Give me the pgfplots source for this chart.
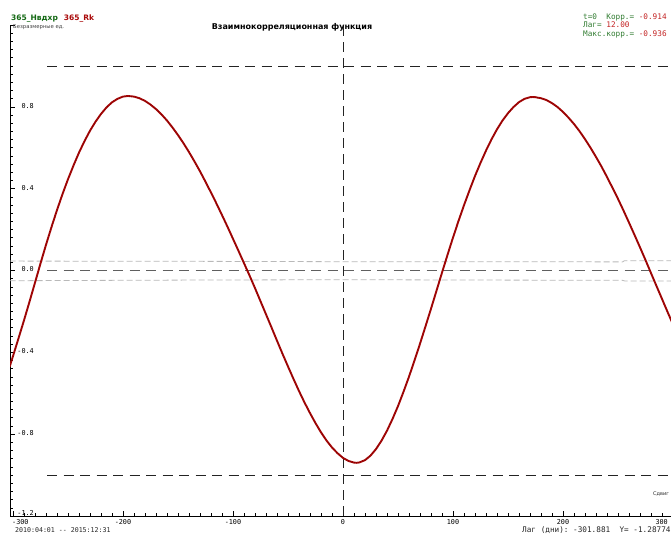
\documentclass[border=0pt]{standalone}
\usepackage{pgfplots}
\pgfplotsset{compat=1.18}
\usepackage{pgfplotstable}
\usepackage{fontspec}
\setmainfont{DejaVu Sans}
\newfontfamily\mono{DejaVu Sans Mono}
\definecolor{curvered}{RGB}{168,8,8}
\definecolor{curvedark}{RGB}{110,0,0}
\definecolor{tlgreen}{RGB}{20,105,20}
\definecolor{tlred}{RGB}{170,10,10}
\definecolor{trgreen}{RGB}{50,125,50}
\definecolor{trred}{RGB}{195,35,35}
\definecolor{bandgray}{RGB}{185,185,185}
\definecolor{zerogray}{RGB}{95,95,95}
\definecolor{refblack}{RGB}{35,35,35}

\pgfplotstableread{
x y
-303 -0.470
-300 -0.419
-295 -0.332
-290 -0.244
-285 -0.153
-280 -0.060
-276.8 0.000
-275 0.034
-270 0.125
-265 0.212
-260 0.295
-255 0.373
-250 0.446
-245 0.513
-240 0.576
-235 0.632
-230 0.683
-225 0.727
-220 0.765
-215 0.797
-210 0.822
-205 0.839
-200 0.850
-195.5 0.853
-190 0.850
-185 0.842
-180 0.829
-175 0.811
-170 0.789
-165 0.763
-160 0.733
-155 0.699
-150 0.662
-145 0.622
-140 0.579
-135 0.533
-130 0.485
-125 0.434
-120 0.381
-115 0.327
-110 0.271
-105 0.214
-100 0.155
-95 0.096
-90 0.036
-87 0.000
-85 -0.024
-80 -0.086
-75 -0.150
-70 -0.214
-65 -0.278
-60 -0.343
-55 -0.407
-50 -0.469
-45 -0.530
-40 -0.589
-35 -0.645
-30 -0.697
-25 -0.746
-20 -0.791
-15 -0.831
-10 -0.865
-5 -0.893
0 -0.916
5 -0.931
10 -0.939
12.5 -0.940
15 -0.938
20 -0.927
25 -0.905
30 -0.873
35 -0.832
40 -0.783
45 -0.726
50 -0.663
55 -0.593
60 -0.519
65 -0.440
70 -0.358
75 -0.273
80 -0.187
85 -0.099
90.6 0.000
95 0.076
100 0.161
105 0.242
110 0.319
115 0.392
120 0.462
125 0.526
130 0.586
135 0.641
140 0.690
145 0.733
150 0.769
155 0.799
160 0.823
165 0.839
170 0.847
172.7 0.848
175 0.847
180 0.842
185 0.833
190 0.818
195 0.799
200 0.775
205 0.747
210 0.716
215 0.681
220 0.642
225 0.600
230 0.555
235 0.508
240 0.457
245 0.404
250 0.350
255 0.293
260 0.234
265 0.174
270 0.113
275 0.051
279 0.000
280 -0.013
285 -0.076
290 -0.139
295 -0.202
300 -0.264
303 -0.300
}\ccf

\pgfplotstableread{
x y
-303 0.046
-150 0.045
0 0.043
150 0.043
254 0.042
256 0.048
303 0.048
}\bandup

\pgfplotstableread{
x y
-303 -0.050
-150 -0.047
0 -0.045
150 -0.047
254 -0.048
256 -0.051
303 -0.051
}\banddown

\begin{document}
\begin{tikzpicture}
\path[use as bounding box] (0,0) rectangle (671pt,534pt);
\fill[white] (0,0) rectangle (671pt,534pt);
\begin{axis}[
  at={(10pt,18pt)}, anchor=south west,
  scale only axis, width=663pt, height=491pt,
  xmin=-302.7, xmax=300, ymin=-1.2, ymax=1.2,
  axis x line=bottom, axis y line=left,
  axis line style={-, line width=0.8pt, black},
  tick align=inside,
  xtick={-300,-200,-100,0,100,200,300},
  xticklabels={,-200,-100,0,100,200,},
  ytick={-1.2,-0.8,-0.4,0,0.4,0.8,1.2},
  yticklabels={\raisebox{4.5pt}{-1.2},-0.8,-0.4,0.0,0.4,0.8,},
  minor x tick num=9, minor y tick num=9,
  major tick length=5pt, minor tick length=3pt,
  tick style={black, line width=0.6pt},
  xticklabel style={font=\mono\fontsize{6.8}{7}\selectfont, inner sep=1pt, yshift=-2pt},
  yticklabel style={font=\mono\fontsize{6.8}{7}\selectfont, anchor=east, xshift=24pt, yshift=1pt, inner sep=0pt},
]
\addplot[bandgray, line width=0.8pt, dash pattern=on 6pt off 3pt] table {\bandup};
\addplot[bandgray, line width=0.8pt, dash pattern=on 6pt off 3pt] table {\banddown};
\addplot[refblack, line width=0.8pt, dash pattern=on 10pt off 6.5pt] coordinates {(-269,1) (300,1)};
\addplot[zerogray, line width=0.9pt, dash pattern=on 10pt off 6.5pt] coordinates {(-269,0) (300,0)};
\addplot[refblack, line width=0.8pt, dash pattern=on 10pt off 6.5pt] coordinates {(-269,-1) (300,-1)};
\addplot[refblack, line width=0.8pt, dash pattern=on 10pt off 6pt] coordinates {(0,-1.2) (0,1.2)};
\addplot[curvered, line width=1.9pt] table {\ccf};
\addplot[curvedark, line width=0.9pt, dash pattern=on 0.5pt off 1.6pt] table {\ccf};
\end{axis}
% texts
\node[anchor=base west, inner sep=0pt, font=\bfseries\fontsize{7.5}{8}\selectfont] at (11pt,513pt)
  {\textcolor{tlgreen}{365\_Нвдхр}\hspace{6pt}\textcolor{tlred}{365\_Rk}};
\node[anchor=base west, inner sep=0pt, font=\fontsize{5.3}{6}\selectfont, text=black!75] at (13pt,505pt) {Безразмерные ед.};
\node[anchor=base, inner sep=0pt, font=\bfseries\fontsize{8}{9}\selectfont] at (292pt,504pt) {Взаимнокорреляционная функция};
\node[anchor=base west, inner sep=0pt, font=\mono\fontsize{7.7}{8}\selectfont] at (583pt,514pt)
  {\textcolor{trgreen}{t=0\ \ Корр.=\ }\textcolor{trred}{-0.914}};
\node[anchor=base west, inner sep=0pt, font=\mono\fontsize{7.7}{8}\selectfont] at (583pt,506pt)
  {\textcolor{trgreen}{Лаг=\ }\textcolor{trred}{12.00}};
\node[anchor=base west, inner sep=0pt, font=\mono\fontsize{7.7}{8}\selectfont] at (583pt,497pt)
  {\textcolor{trgreen}{Макс.корр.=\ }\textcolor{trred}{-0.936}};
\node[anchor=north west, inner sep=1pt, font=\mono\fontsize{6.8}{7}\selectfont] at (11pt,16pt) {-300};
\node[anchor=north east, inner sep=1pt, font=\mono\fontsize{6.8}{7}\selectfont] at (669pt,16pt) {300};
\node[anchor=base west, inner sep=0pt, font=\mono\fontsize{6.6}{7}\selectfont, text=black!85] at (15pt,1pt) {2010:04:01 -{}- 2015:12:31};
\node[anchor=base west, inner sep=0pt, font=\mono\fontsize{7.7}{8}\selectfont, text=black!85] at (522pt,1pt) {Лаг (дни):\ -301.881\ \ Y=\ -1.28774};
\node[anchor=base west, inner sep=0pt, font=\fontsize{5}{6}\selectfont, text=black!85] at (653pt,38pt) {Сдвиг};
\end{tikzpicture}
\end{document}
